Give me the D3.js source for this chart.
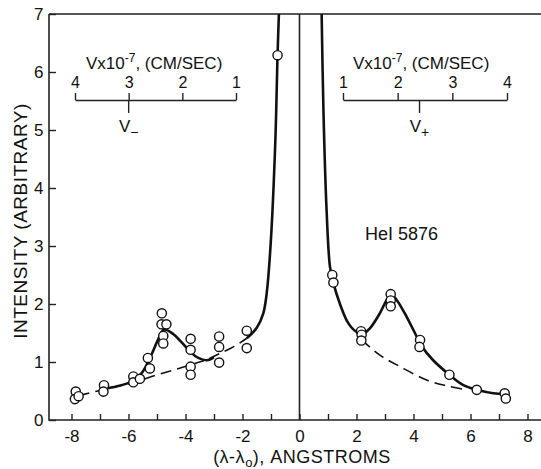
<!DOCTYPE html>
<html lang="en">
  <head>
    <meta charset="utf-8">
    <title>HeI 5876 line profile</title>
    <style>
      body {
        margin: 0;
        background: #fff;
      }
      svg text {
        font-family: "Liberation Sans", Arial, sans-serif;
        fill: #111;
      }
      .frame {
        stroke: #222;
        stroke-width: 1.6;
        fill: none;
      }
      .fit {
        fill: none;
        stroke: #111;
        stroke-width: 2.6;
      }
      .base {
        fill: none;
        stroke: #111;
        stroke-width: 1.6;
        stroke-dasharray: 11, 6;
      }
      .dot {
        fill: #fff;
        stroke: #111;
        stroke-width: 1.4;
      }
    </style>
  </head>
  <body>
    <svg id="chart" width="541" height="469"></svg>

    <script src="https://d3js.org/d3.v7.min.js"></script>
    <script>
      // observed points (wavelength offset in A, intensity)
      const obsLambda = [-7.85, -7.88, -7.75, -6.86, -6.88, -5.83, -5.83, -5.6, -5.32, -5.25,
        -4.83, -4.84, -4.67, -4.78, -4.78, -3.82, -3.82, -3.82, -3.82, -2.82, -2.82, -2.82,
        -1.85, -1.85, -0.77,
        1.15, 1.19, 2.16, 2.18, 2.17, 3.2, 3.2, 3.2, 4.23, 4.21, 5.26, 6.22, 7.2, 7.24];
      const obsIntensity = [0.49, 0.36, 0.41, 0.60, 0.49, 0.75, 0.65, 0.71, 1.07, 0.89,
        1.84, 1.65, 1.65, 1.45, 1.32, 1.40, 1.21, 0.92, 0.78, 1.44, 1.26, 0.99,
        1.54, 1.24, 6.29,
        2.50, 2.37, 1.53, 1.47, 1.37, 2.17, 2.06, 1.96, 1.38, 1.26, 0.78, 0.52, 0.46, 0.37];

      // solid fitted curve, three pieces
      const fitLeftA = [[-6.9, 0.53], [-6.4, 0.58], [-5.9, 0.66], [-5.55, 0.80], [-5.2, 1.12],
        [-4.95, 1.40], [-4.75, 1.56], [-4.45, 1.49], [-4.1, 1.32], [-3.84, 1.18],
        [-3.55, 1.07], [-3.25, 1.03], [-3.0, 1.08]];
      const fitLeftB = [[-1.85, 1.41], [-1.5, 1.59], [-1.27, 1.84], [-1.15, 2.19], [-1.01, 3.05],
        [-0.85, 4.78], [-0.77, 6.29], [-0.71, 7.2]];
      const fitRight = [[0.77, 7.2], [0.84, 5.34], [0.95, 3.62], [1.07, 2.64], [1.19, 2.36],
        [1.42, 2.0], [1.71, 1.67], [2.0, 1.52], [2.24, 1.49], [2.47, 1.58], [2.82, 1.84],
        [3.06, 2.07], [3.23, 2.16], [3.41, 2.07], [3.76, 1.78], [4.11, 1.44], [4.29, 1.27],
        [4.69, 1.03], [5.26, 0.78], [5.75, 0.60], [6.22, 0.52], [6.8, 0.46], [7.22, 0.45]];

      // dashed continuum
      const baseLeft = [[-7.75, 0.42], [-7.0, 0.51], [-6.4, 0.58], [-5.83, 0.64], [-5.13, 0.76],
        [-4.43, 0.86], [-3.84, 0.95], [-3.26, 1.04], [-2.79, 1.15], [-2.32, 1.26], [-1.85, 1.41]];
      const baseRight = [[2.18, 1.38], [2.82, 1.12], [3.53, 0.92], [4.46, 0.69], [5.16, 0.59],
        [5.87, 0.52]];

      const xTicks = d3.range(-8, 9);
      const yTicks = d3.range(0, 8);
      const velTicks = [1, 2, 3, 4];
      const vMinus = 3.0, vPlus = 2.4;

      const svg = d3.select("#chart");
      const pl = 49, pr = 541, pt = 14, pb = 420;

      const x = d3.scaleLinear().domain([-8, 8]).range([71.5, 527.5]);
      const y = d3.scaleLinear().domain([0, 7]).range([pb, pt]);

      svg.append("clipPath").attr("id", "plot")
        .append("rect").attr("x", pl).attr("y", pt)
        .attr("width", pr - pl).attr("height", pb - pt);

      // frame lines
      svg.append("path").attr("class", "frame")
        .attr("d", `M${pl},${pt}H${pr}M${pl},${pt}V${pb}H${pr}`);
      svg.append("line").attr("class", "frame")
        .attr("x1", x(0)).attr("x2", x(0)).attr("y1", pt).attr("y2", pb);

      // axes
      const xAxis = d3.axisBottom(x).tickValues(xTicks).tickSize(-6).tickPadding(9.5)
        .tickFormat(d => d % 2 === 0 ? String(d) : "");
      const gx = svg.append("g").attr("transform", `translate(0,${pb})`).call(xAxis);
      gx.select(".domain").remove();

      const yAxis = d3.axisLeft(y).tickValues(yTicks).tickSize(-7).tickPadding(5.5)
        .tickFormat(d => String(d));
      const gy = svg.append("g").attr("transform", `translate(${pl},0)`).call(yAxis);
      gy.select(".domain").remove();

      [gx, gy].forEach(g => {
        g.selectAll("line").attr("stroke", "#222").attr("stroke-width", 1.4);
        g.selectAll("text").attr("font-size", 17).attr("font-family", null).attr("fill", "#111");
      });

      // axis titles
      svg.append("text")
        .attr("transform", "translate(27,221) rotate(-90)")
        .attr("text-anchor", "middle").attr("font-size", 19).attr("letter-spacing", 0.5)
        .text("INTENSITY (ARBITRARY)");

      const xt = svg.append("text").attr("x", 302).attr("y", 463)
        .attr("text-anchor", "middle").attr("font-size", 18).attr("letter-spacing", 0.5);
      xt.append("tspan").text("(\u03bb-\u03bb");
      xt.append("tspan").attr("font-size", 13).attr("dy", 4).text("o");
      xt.append("tspan").attr("dy", -4).text("), ANGSTROMS");

      svg.append("text").attr("x", 365).attr("y", 240).attr("font-size", 18)
        .text("HeI 5876");

      // curves
      const line = d3.line().x(d => x(d[0])).y(d => y(d[1])).curve(d3.curveCatmullRom.alpha(0.5));
      const plot = svg.append("g").attr("clip-path", "url(#plot)");
      [baseLeft, baseRight].forEach(b => plot.append("path").attr("class", "base").attr("d", line(b)));
      [fitLeftA, fitLeftB, fitRight].forEach(f => plot.append("path").attr("class", "fit").attr("d", line(f)));

      plot.selectAll(".dot").data(obsLambda).enter().append("circle")
        .attr("class", "dot")
        .attr("cx", d => x(d))
        .attr("cy", (d, i) => y(obsIntensity[i]))
        .attr("r", 4.6);

      // velocity insets
      function velocityScale(scale, markValue, sub, labelX, labelY) {
        const g = svg.append("g").attr("transform", "translate(0,100)");
        g.call(d3.axisTop(scale).tickValues(velTicks).tickSize(7).tickSizeOuter(0).tickPadding(5)
          .tickFormat(d => String(d)));
        g.select(".domain").attr("stroke", "#222").attr("stroke-width", 1.4);
        g.selectAll("line").attr("stroke", "#222").attr("stroke-width", 1.4);
        g.selectAll("text").attr("font-size", 16).attr("font-family", null).attr("fill", "#111");
        g.append("line").attr("x1", scale(markValue)).attr("x2", scale(markValue))
          .attr("y1", 0).attr("y2", 13).attr("stroke", "#222").attr("stroke-width", 1.4);

        const t = svg.append("text").attr("x", labelX).attr("y", 69).attr("font-size", 17);
        t.append("tspan").text("Vx10");
        t.append("tspan").attr("font-size", 12).attr("dy", -7).text("-7");
        t.append("tspan").attr("dy", 7).text(", (CM/SEC)");

        const v = svg.append("text").attr("x", scale(markValue)).attr("y", labelY)
          .attr("text-anchor", "middle").attr("font-size", 17);
        v.append("tspan").text("V");
        v.append("tspan").attr("font-size", 14).attr("dy", 5).text(sub);
      }

      const vLeft = d3.scaleLinear().domain([4, 1]).range([75, 236]);
      const vRight = d3.scaleLinear().domain([1, 4]).range([343, 507]);
      velocityScale(vLeft, vMinus, "\u2212", 86, 132);
      velocityScale(vRight, vPlus, "+", 353, 132);
    </script>
  </body>
</html>
